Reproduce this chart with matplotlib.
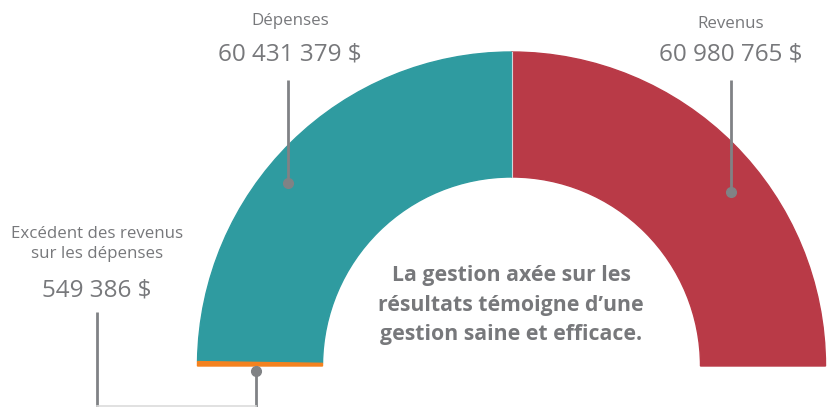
import matplotlib
matplotlib.use("Agg")
import matplotlib.pyplot as plt
from matplotlib.patches import Wedge

# data
labels = ["Revenus", "Dépenses", "Excédent des revenus\nsur les dépenses"]
values = [60980765, 60431379, 549386]
colors = ["#B93A47", "#2F9BA0", "#F4821F"]
message = "La gestion axée sur les\nrésultats témoigne d\u2019une\ngestion saine et efficace."

GRAY = "#77787B"
LINE = "#808285"
H = 407

def fmt(v):
    return "{:,}".format(v).replace(",", " ") + " $"

def Y(py):
    return H - py

plt.rcParams['font.family'] = ['Open Sans', 'DejaVu Sans']

fig = plt.figure(figsize=(8.31, 4.07), dpi=100)
ax = fig.add_axes([0, 0, 1, 1])
ax.set_xlim(0, 831)
ax.set_ylim(0, H)
ax.set_aspect('equal')
ax.axis('off')

# half donut: the semicircle holds all three values
cx, cy, R, w = 511.5, Y(366), 314, 125
total = sum(values)
theta = 0.0
for v, c in zip(values, colors):
    span = 180.0 * v / total
    ax.add_patch(Wedge((cx, cy), R, theta, theta + span, width=w,
                       facecolor=c, edgecolor=c, lw=1.0))
    theta += span
ax.plot([cx, cx], [cy + R - w, cy + R], color="#cfd8da", lw=0.8)

# leader lines + dots
def leader(xs, ys):
    ax.plot(xs, [Y(y) for y in ys], color=LINE, lw=2, solid_capstyle='butt')

leader([288, 288], [80, 183])
ax.plot(288, Y(183), 'o', ms=7, color=LINE)
leader([731, 731], [80, 192])
ax.plot(731, Y(192), 'o', ms=7, color=LINE)
leader([256, 256], [371, 407])
ax.plot(256, Y(371), 'o', ms=7, color=LINE)
leader([97, 97], [312, 407])
ax.plot([97, 256], [Y(406), Y(406)], color="#dcdcdc", lw=1.2)

# labels
ax.text(290, Y(21), labels[1], ha='center', va='center', fontsize=12.2, color=GRAY)
ax.text(290, Y(55), fmt(values[1]), ha='center', va='center', fontsize=17.5, color=GRAY)
ax.text(731, Y(24), labels[0], ha='center', va='center', fontsize=12.2, color=GRAY)
ax.text(731, Y(55), fmt(values[0]), ha='center', va='center', fontsize=17.5, color=GRAY)
ax.text(97, Y(244), labels[2], ha='center', va='center', fontsize=12.2, color=GRAY,
        linespacing=1.4)
ax.text(97, Y(291), fmt(values[2]), ha='center', va='center', fontsize=17.5, color=GRAY)

ax.text(511, Y(305), message, ha='center', va='center', fontsize=15.3,
        fontweight='bold', color=GRAY, linespacing=1.55)

fig.savefig("out.png", dpi=100)
